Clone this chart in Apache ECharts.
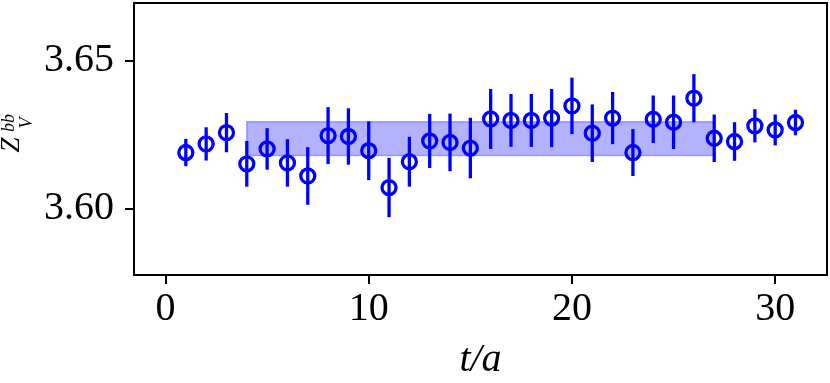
<!DOCTYPE html>
<html>
<head>
<meta charset="utf-8">
<script src="https://cdn.jsdelivr.net/npm/echarts@6/dist/echarts.min.js"></script>
<style>
  html, body { margin: 0; padding: 0; background: #fff; }
  #chart { width: 830px; height: 383px; }
</style>
</head>
<body>
<div id="chart"></div>
<script>
// time slices
const tVals = [1, 2, 3, 4, 5, 6, 7, 8, 9, 10, 11, 12, 13, 14, 15, 16,
  17, 18, 19, 20, 21, 22, 23, 24, 25, 26, 27, 28, 29, 30, 31]
// Z_V^bb per time slice
const zVals = [3.6190, 3.6219, 3.6257, 3.6152, 3.6202, 3.6155, 3.6111, 3.6247,
  3.6244, 3.6196, 3.6072, 3.6159, 3.6229, 3.6224, 3.6205, 3.6303, 3.6298,
  3.6298, 3.6306, 3.6347, 3.6255, 3.6306, 3.6190, 3.6302, 3.6292, 3.6373,
  3.6238, 3.6227, 3.6280, 3.6266, 3.6291]
const zErr = [0.0046, 0.0056, 0.0066, 0.0077, 0.0070, 0.0080, 0.0097, 0.0096,
  0.0095, 0.0099, 0.0100, 0.0084, 0.0091, 0.0097, 0.0102, 0.0101, 0.0089,
  0.0089, 0.0098, 0.0095, 0.0097, 0.0088, 0.0079, 0.0080, 0.0090, 0.0081,
  0.0080, 0.0065, 0.0056, 0.0052, 0.0043]
// fit window and band
const fitRange = [4, 27]
const fitBand = [3.6180, 3.6294]
// ticks
const xTicks = [0, 10, 20, 30]
const yTicks = [3.60, 3.65]

const blue = '#0000ff'
const font = 'Liberation Serif'

const chart = echarts.init(document.getElementById('chart'))

const points = tVals.map((t, i) => [t, zVals[i]])
const bars = tVals.map((t, i) => [t, zVals[i] - zErr[i], zVals[i] + zErr[i]])

// small helper for the rotated y label pieces
const labelPart = (text, x, y, size) => ({
  type: 'text', x, y,
  style: {
    text, fill: '#000',
    font: 'italic ' + size + 'px "' + font + '"',
    align: 'center', verticalAlign: 'middle'
  }
})

const option = {
  animation: false,
  grid: {
    left: 134, right: 3, top: 3, bottom: 108,
    outerBoundsMode: 'none',
    show: true,
    borderColor: '#000',
    borderWidth: 2
  },
  xAxis: {
    type: 'value',
    min: -1.55,
    max: 32.55,
    splitLine: { show: false },
    axisLine: { show: true, onZero: false, lineStyle: { color: '#000', width: 2 } },
    axisTick: { show: true, length: 9, customValues: xTicks, lineStyle: { color: '#000', width: 2 } },
    axisLabel: {
      customValues: xTicks,
      color: '#000', fontFamily: font, fontSize: 40, margin: 14
    },
    name: 't/a',
    nameLocation: 'middle',
    nameGap: 65,
    nameTextStyle: { color: '#000', fontFamily: font, fontStyle: 'italic', fontSize: 40 }
  },
  yAxis: {
    type: 'value',
    min: 3.57775,
    max: 3.66935,
    splitLine: { show: false },
    axisLine: { show: true, onZero: false, lineStyle: { color: '#000', width: 2 } },
    axisTick: { show: true, length: 9, customValues: yTicks, lineStyle: { color: '#000', width: 2 } },
    axisLabel: {
      customValues: yTicks,
      formatter: v => v.toFixed(2),
      color: '#000', fontFamily: font, fontSize: 40, margin: 20
    }
  },
  graphic: [{
    type: 'group',
    x: 18, y: 135,
    rotation: Math.PI / 2,
    children: [
      labelPart('Z', -10, -6, 27),
      labelPart('bb', 12, -9, 18),
      labelPart('V', 12, 9, 18)
    ]
  }],
  series: [
    {
      // fit band
      type: 'custom',
      silent: true,
      data: [[fitRange[0], fitRange[1], fitBand[0], fitBand[1]]],
      renderItem: (params, api) => {
        const p0 = api.coord([api.value(0), api.value(3)])
        const p1 = api.coord([api.value(1), api.value(2)])
        return {
          type: 'rect',
          shape: { x: p0[0], y: p0[1], width: p1[0] - p0[0], height: p1[1] - p0[1] },
          style: { fill: 'rgba(0,0,255,0.3)', stroke: 'rgba(0,0,255,0.3)', lineWidth: 1.5 }
        }
      }
    },
    {
      // error bars
      type: 'custom',
      silent: true,
      data: bars,
      renderItem: (params, api) => {
        const lo = api.coord([api.value(0), api.value(1)])
        const hi = api.coord([api.value(0), api.value(2)])
        return {
          type: 'line',
          shape: { x1: lo[0], y1: lo[1], x2: hi[0], y2: hi[1] },
          style: { stroke: blue, lineWidth: 3.3 }
        }
      }
    },
    {
      type: 'scatter',
      data: points,
      symbol: 'circle',
      symbolSize: 14,
      itemStyle: { color: 'rgba(0,0,0,0)', borderColor: blue, borderWidth: 3.3, opacity: 1 }
    }
  ]
}

chart.setOption(option)
</script>
</body>
</html>
